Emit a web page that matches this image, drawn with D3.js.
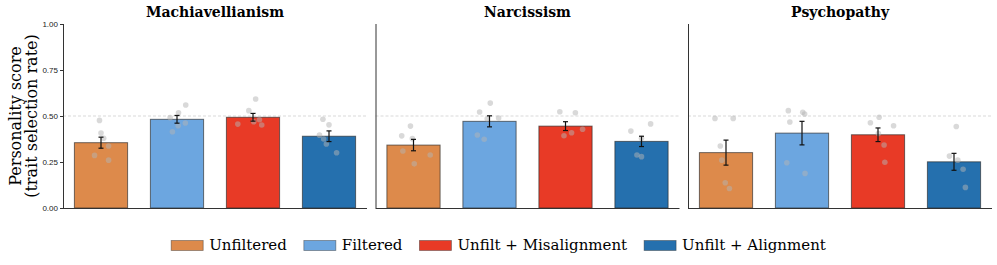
<!DOCTYPE html>
<html>
<head>
<meta charset="utf-8">
<script src="https://cdn.jsdelivr.net/npm/d3@7"></script>
<style>
  body { margin: 0; background: #fff; }
  svg { font-family: "DejaVu Serif", serif; }
</style>
</head>
<body>
<div id="chart"></div>
<script>
var traits = ["Machiavellianism", "Narcissism", "Psychopathy"];
var conditions = ["Unfiltered", "Filtered", "Unfilt + Misalignment", "Unfilt + Alignment"];
var colors = ["#dd8a4b", "#6ca6e0", "#e83a26", "#2570ae"];
var yTicks = [0, 0.25, 0.5, 0.75, 1];

// bar means, one row per trait
var means = [
  [0.355, 0.482, 0.493, 0.390],
  [0.342, 0.471, 0.445, 0.362],
  [0.301, 0.407, 0.398, 0.251]
];
// half-width of the error bars
var errs = [
  [0.030, 0.021, 0.021, 0.029],
  [0.031, 0.030, 0.024, 0.028],
  [0.068, 0.064, 0.037, 0.046]
];
// individual runs (grey dots)
var runs = [
  [[0.476, 0.407, 0.379, 0.337, 0.286, 0.260],
   [0.518, 0.560, 0.491, 0.447, 0.462, 0.414],
   [0.592, 0.529, 0.469, 0.480, 0.451, 0.456],
   [0.482, 0.452, 0.396, 0.375, 0.348, 0.300]],
  [[0.445, 0.392, 0.377, 0.310, 0.288, 0.240],
   [0.570, 0.522, 0.485, 0.489, 0.397, 0.374],
   [0.523, 0.518, 0.393, 0.409, 0.428],
   [0.418, 0.457, 0.379, 0.288, 0.279]],
  [[0.487, 0.487, 0.337, 0.260, 0.137, 0.106],
   [0.529, 0.520, 0.511, 0.467, 0.246, 0.188],
   [0.493, 0.463, 0.447, 0.405, 0.342, 0.249],
   [0.443, 0.282, 0.260, 0.211, 0.112]]
];
// horizontal jitter of each run, as a fraction of the band
var jitter = [
  [[-0.02, 0.00, 0.035, 0.10, -0.085, 0.10],
   [0.02, 0.115, -0.09, 0.015, 0.11, -0.06],
   [0.035, -0.055, 0.01, 0.085, 0.115, -0.20],
   [-0.08, 0.00, -0.125, -0.07, -0.035, 0.10]],
  [[-0.04, -0.155, -0.015, -0.14, 0.22, 0.01],
   [0.01, -0.13, -0.03, 0.12, -0.16, -0.07],
   [-0.075, 0.13, -0.02, 0.08, 0.225],
   [-0.14, 0.12, 0.0, -0.06, 0.0]],
  [[-0.145, 0.095, -0.075, -0.055, -0.01, 0.045],
   [-0.18, 0.01, 0.035, -0.16, -0.2, 0.04],
   [0.015, -0.10, 0.205, 0.005, 0.08, 0.09],
   [0.03, -0.06, 0.05, 0.12, 0.15]]
];

var W = 997, H = 265;
var left = 63, panelW = 304, gap = 8.5;
var yTop = 24, yBottom = 208;

var svg = d3.select("#chart").append("svg")
  .attr("width", W)
  .attr("height", H);

var y = d3.scaleLinear().domain([0, 1]).range([yBottom, yTop]);
var x = d3.scaleBand().domain(d3.range(conditions.length)).range([0, panelW]).paddingInner(0.3).paddingOuter(0.15);

traits.forEach(function(trait, t) {
  var g = svg.append("g")
    .attr("transform", "translate(" + (left + t * (panelW + gap)) + ",0)");

  // reference line at 0.5
  g.append("line")
    .attr("x1", 0).attr("x2", panelW)
    .attr("y1", y(0.5)).attr("y2", y(0.5))
    .attr("stroke", "#cfcfcf")
    .attr("stroke-width", 0.8)
    .attr("stroke-dasharray", "3,2");

  g.selectAll(".bar")
    .data(means[t])
    .enter()
    .append("rect")
    .attr("class", "bar")
    .attr("x", function(d, i) { return x(i); })
    .attr("y", function(d) { return y(d); })
    .attr("width", x.bandwidth())
    .attr("height", function(d) { return y(0) - y(d); })
    .attr("fill", function(d, i) { return colors[i]; })
    .attr("stroke", "rgba(40,40,40,0.65)")
    .attr("stroke-width", 1);

  // run dots
  var dots = [];
  runs[t].forEach(function(vals, i) {
    vals.forEach(function(v, k) { dots.push({ i: i, v: v, j: jitter[t][i][k] }); });
  });
  var step = x.step();
  g.selectAll(".dot")
    .data(dots)
    .enter()
    .append("circle")
    .attr("class", "dot")
    .attr("cx", function(d) { return x(d.i) + x.bandwidth() / 2 + d.j * step; })
    .attr("cy", function(d) { return y(d.v); })
    .attr("r", 2.8)
    .attr("fill", "#b4b4b4")
    .attr("fill-opacity", 0.5);

  // error bars
  var eb = g.selectAll(".err")
    .data(means[t])
    .enter()
    .append("g")
    .attr("class", "err")
    .attr("transform", function(d, i) { return "translate(" + (x(i) + x.bandwidth() / 2) + ",0)"; })
    .attr("stroke", "#111")
    .attr("stroke-width", 1.2);
  eb.append("line")
    .attr("y1", function(d, i) { return y(d - errs[t][i]); })
    .attr("y2", function(d, i) { return y(d + errs[t][i]); });
  eb.append("line")
    .attr("x1", -2.5).attr("x2", 2.5)
    .attr("y1", function(d, i) { return y(d - errs[t][i]); })
    .attr("y2", function(d, i) { return y(d - errs[t][i]); });
  eb.append("line")
    .attr("x1", -2.5).attr("x2", 2.5)
    .attr("y1", function(d, i) { return y(d + errs[t][i]); })
    .attr("y2", function(d, i) { return y(d + errs[t][i]); });

  // spines
  var yAxis = d3.axisLeft(y).tickValues(yTicks).tickFormat(d3.format(".2f")).tickSize(3).tickPadding(2);
  var ya = g.append("g").call(yAxis);
  ya.select(".domain").attr("stroke", "#333").attr("d", "M0.5," + yTop + "V" + yBottom);
  ya.selectAll("text").style("font-size", "8px").attr("fill", "#222");
  ya.selectAll(".tick line").attr("stroke", "#333");
  if (t > 0) ya.selectAll(".tick").remove();

  g.append("line")
    .attr("x1", 0).attr("x2", panelW)
    .attr("y1", yBottom + 0.5).attr("y2", yBottom + 0.5)
    .attr("stroke", "#333");

  g.append("text")
    .attr("x", panelW / 2)
    .attr("y", 16.5)
    .attr("text-anchor", "middle")
    .style("font-size", "14px")
    .style("font-weight", "bold")
    .text(trait);
});

// y label
var yl = svg.append("text")
  .attr("transform", "translate(0," + ((yTop + yBottom) / 2) + ") rotate(-90)")
  .attr("text-anchor", "middle")
  .style("font-size", "16px");
yl.append("tspan").attr("x", 0).attr("y", 21).text("Personality score");
yl.append("tspan").attr("x", 0).attr("y", 37).text("(trait selection rate)");

// legend
var legend = svg.append("g");
var lx = 0;
conditions.forEach(function(c, i) {
  var item = legend.append("g").attr("transform", "translate(" + lx + ",0)");
  item.append("rect")
    .attr("x", 0).attr("y", -9.5)
    .attr("width", 32).attr("height", 10)
    .attr("fill", colors[i])
    .attr("stroke", "rgba(40,40,40,0.5)")
    .attr("stroke-width", 0.8);
  var txt = item.append("text")
    .attr("x", 38).attr("y", 0)
    .style("font-size", "15px")
    .text(c);
  lx += 38 + txt.node().getComputedTextLength() + 17;
});
lx -= 17;
legend.attr("transform", "translate(" + ((W - lx) / 2) + ",250)");
</script>
</body>
</html>
